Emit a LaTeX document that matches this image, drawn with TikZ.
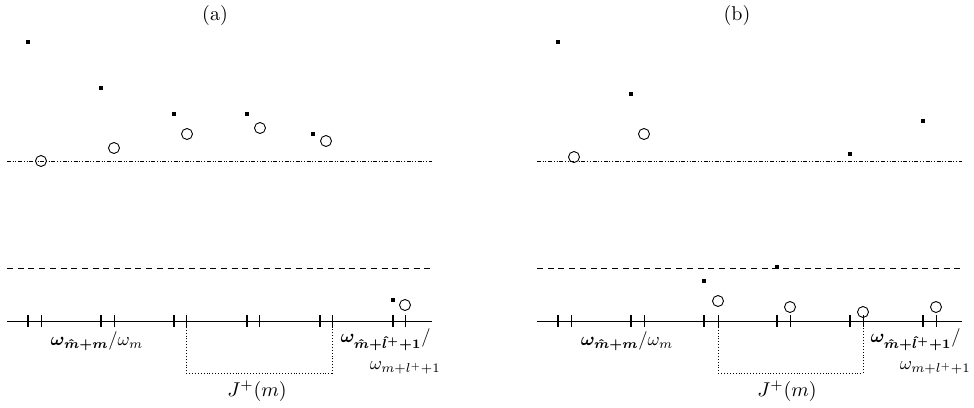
\documentclass[tikz,border=0pt]{standalone}
\usepackage{amsmath,amssymb}
\tikzset{
  sq/.style={rectangle, fill=black, draw=none, minimum size=4pt, inner sep=0pt},
  circ/.style={circle, draw, line width=0.9pt, minimum size=11pt, inner sep=0pt},
  thk/.style={line width=2.6pt},
  thn/.style={line width=0.9pt},
  lbl/.style={scale=2, inner sep=0pt},
  lbls/.style={scale=1.85, inner sep=0pt},
  axisline/.style={line width=0.9pt},
  dashd/.style={line width=0.9pt, dash pattern=on 6pt off 4.7pt},
  dashdot/.style={line width=0.9pt, dash pattern=on 4pt off 1.7pt on 1pt off 1.7pt on 1pt off 1.7pt},
  dots/.style={line width=0.9pt, dotted}
}
\begin{document}
\begin{tikzpicture}[x=1pt,y=-1pt]
\useasboundingbox (0,0) rectangle (974,407);
% ---------------- panel (a) ----------------
\node[lbl] (ta) at (215,15) {(a)};
\coordinate (adl) at (7,161);  \coordinate (adr) at (432,161);
\coordinate (adsl) at (7,268); \coordinate (adsr) at (430,268);
\coordinate (axl) at (7,321);  \coordinate (axr) at (432,321);
\draw[dashdot] (adl) -- (adr);
\draw[dashd] (adsl) -- (adsr);
\draw[axisline] (axl) -- (axr);
\foreach \x in {28,101,174,247,320,393} \draw[thk] (\x,315) -- (\x,327);
\foreach \x in {41,114,186,259,332,405} \draw[thn] (\x,315) -- (\x,327);
\coordinate (ar1) at (186,321); \coordinate (ar2) at (186,373);
\coordinate (ar3) at (332,373); \coordinate (ar4) at (332,321);
\draw[dots] (ar1) -- (ar2) -- (ar3) -- (ar4);
\node[sq] (as1) at (28,42) {};
\node[sq] (as2) at (101,88) {};
\node[sq] (as3) at (174,114) {};
\node[sq] (as4) at (247,114) {};
\node[sq] (as5) at (313,134) {};
\node[sq] (as6) at (393,300) {};
\node[circ] (ac1) at (41,161) {};
\node[circ] (ac2) at (114,148) {};
\node[circ] (ac3) at (187,134) {};
\node[circ] (ac4) at (260,128) {};
\node[circ] (ac5) at (326,141) {};
\node[circ] (ac6) at (405,305) {};
\node[lbls] (al1) at (97,341) {$\boldsymbol{\omega_{\hat m+m}}/\omega_m$};
\node[lbls, anchor=east] (al2) at (431,340) {$\boldsymbol{\omega_{\hat m+\hat l^+ +1}}/$};
\node[lbls, anchor=east] (al3) at (441,368) {$\omega_{m+l^+ +1}$};
\node[lbl] (aj) at (257,391) {$J^+(m)$};
% ---------------- panel (b) ----------------
\node[lbl] (tb) at (737,15) {(b)};
\coordinate (bdl) at (537,161);  \coordinate (bdr) at (962,161);
\coordinate (bdsl) at (537,268); \coordinate (bdsr) at (960,268);
\coordinate (bxl) at (537,321);  \coordinate (bxr) at (962,321);
\draw[dashdot] (bdl) -- (bdr);
\draw[dashd] (bdsl) -- (bdsr);
\draw[axisline] (bxl) -- (bxr);
\foreach \x in {558,631,704,777,850,923} \draw[thk] (\x,315) -- (\x,327);
\foreach \x in {571,644,718,790,863,936} \draw[thn] (\x,315) -- (\x,327);
\coordinate (br1) at (718,321); \coordinate (br2) at (718,373);
\coordinate (br3) at (863,373); \coordinate (br4) at (863,321);
\draw[dots] (br1) -- (br2) -- (br3) -- (br4);
\node[sq] (bs1) at (558,42) {};
\node[sq] (bs2) at (631,94) {};
\node[sq] (bs3) at (704,281) {};
\node[sq] (bs4) at (777,267) {};
\node[sq] (bs5) at (850,154) {};
\node[sq] (bs6) at (923,121) {};
\node[circ] (bc1) at (574,157) {};
\node[circ] (bc2) at (644,134) {};
\node[circ] (bc3) at (718,301) {};
\node[circ] (bc4) at (790,307) {};
\node[circ] (bc5) at (863,312) {};
\node[circ] (bc6) at (936,307) {};
\node[lbls] (bl1) at (627,341) {$\boldsymbol{\omega_{\hat m+m}}/\omega_m$};
\node[lbls, anchor=east] (bl2) at (961,340) {$\boldsymbol{\omega_{\hat m+\hat l^+ +1}}/$};
\node[lbls, anchor=east] (bl3) at (971,368) {$\omega_{m+l^+ +1}$};
\node[lbl] (bj) at (787,391) {$J^+(m)$};
\end{tikzpicture}
\end{document}
